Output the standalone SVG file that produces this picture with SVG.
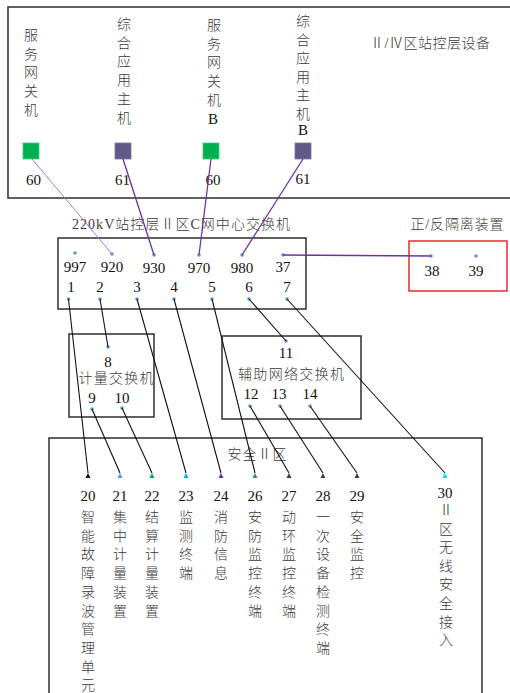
<svg xmlns="http://www.w3.org/2000/svg" width="510" height="693" viewBox="0 0 510 693">
<style>
.cn{font-family:"Liberation Serif","Noto Sans CJK SC",serif;font-size:14px;font-weight:300;fill:#3a3a3a;text-anchor:middle}
.num{font-family:"Liberation Serif","Noto Sans CJK SC",serif;font-size:15px;fill:#111;text-anchor:middle}
.box{fill:none;stroke:#3a3a3a;stroke-width:1.6}
.dot{fill:#5b9bd5}
.pl{stroke:#7030a0;stroke-width:1.3;fill:none}
.bl{stroke:#111;stroke-width:1.1;fill:none}
</style>
<rect width="510" height="693" fill="#fff"/>

<g id="zone-top">
<rect class="box" x="8" y="7" width="520" height="191"/>
<text class="cn" x="430" y="48" textLength="120" lengthAdjust="spacing">Ⅱ/Ⅳ区站控层设备</text>
</g>

<g id="n-gw-a">
<text class="cn"><tspan x="31" y="40">服</tspan><tspan x="31" y="58.7">务</tspan><tspan x="31" y="77.4">网</tspan><tspan x="31" y="96.1">关</tspan><tspan x="31" y="114.8">机</tspan></text>
<rect x="23" y="143" width="16" height="16" fill="#00b050" stroke="#3ccf7a" stroke-width="0.8"/>
<text class="num" x="33.5" y="185">60</text>
</g>
<g id="n-app-a">
<text class="cn"><tspan x="124" y="29">综</tspan><tspan x="124" y="47.7">合</tspan><tspan x="124" y="66.4">应</tspan><tspan x="124" y="85.1">用</tspan><tspan x="124" y="103.8">主</tspan><tspan x="124" y="122.5">机</tspan></text>
<rect x="115" y="143" width="16" height="16" fill="#605a8a" stroke="#7a75a0" stroke-width="0.8"/>
<text class="num" x="122.5" y="185">61</text>
</g>
<g id="n-gw-b">
<text class="cn"><tspan x="214" y="30">服</tspan><tspan x="214" y="48.7">务</tspan><tspan x="214" y="67.4">网</tspan><tspan x="214" y="86.1">关</tspan><tspan x="214" y="104.8">机</tspan></text>
<text class="num" x="213" y="123.5">B</text>
<rect x="203" y="143" width="16" height="16" fill="#00b050" stroke="#3ccf7a" stroke-width="0.8"/>
<text class="num" x="213" y="185">60</text>
</g>
<g id="n-app-b">
<text class="cn"><tspan x="303" y="26">综</tspan><tspan x="303" y="44.5">合</tspan><tspan x="303" y="63">应</tspan><tspan x="303" y="81.5">用</tspan><tspan x="303" y="100">主</tspan><tspan x="303" y="118.5">机</tspan></text>
<text class="num" x="303" y="135">B</text>
<rect x="295" y="143" width="16" height="16" fill="#605a8a" stroke="#7a75a0" stroke-width="0.8"/>
<text class="num" x="303" y="184">61</text>
</g>

<g id="n-center-switch">
<text class="cn" x="181" y="229" textLength="218" lengthAdjust="spacing">220kV站控层Ⅱ区C网中心交换机</text>
<rect class="box" x="58" y="238" width="248" height="71"/>
<circle class="dot" cx="75" cy="253" r="1.8"/><circle class="dot" cx="112" cy="254" r="1.8"/><circle class="dot" cx="154" cy="255" r="1.8"/><circle class="dot" cx="199" cy="255" r="1.8"/><circle class="dot" cx="242" cy="255" r="1.8"/><circle class="dot" cx="283" cy="255" r="1.8"/>
<text class="num" x="75" y="272">997</text><text class="num" x="112" y="272">920</text><text class="num" x="154" y="273">930</text><text class="num" x="199" y="273">970</text><text class="num" x="242" y="273">980</text><text class="num" x="283" y="272">37</text>
<text class="num" x="71" y="292">1</text><text class="num" x="100" y="292">2</text><text class="num" x="137" y="292">3</text><text class="num" x="174" y="292">4</text><text class="num" x="212" y="292">5</text><text class="num" x="249" y="292">6</text><text class="num" x="287" y="292">7</text>
<circle class="dot" cx="68.5" cy="299" r="1.8"/><circle class="dot" cx="100" cy="299" r="1.8"/><circle class="dot" cx="137" cy="299" r="1.8"/><circle class="dot" cx="174" cy="299" r="1.8"/><circle class="dot" cx="212" cy="299" r="1.8"/><circle class="dot" cx="249" cy="299" r="1.8"/><circle class="dot" cx="287" cy="299" r="1.8"/>
</g>

<g id="n-isolator">
<text class="cn" x="457" y="229" textLength="93" lengthAdjust="spacing">正/反隔离装置</text>
<rect x="409" y="241" width="98" height="50" fill="none" stroke="#e02020" stroke-width="1.4"/>
<circle class="dot" cx="431" cy="256" r="1.8"/><circle class="dot" cx="476" cy="256" r="1.8"/>
<text class="num" x="432" y="276">38</text><text class="num" x="476" y="276">39</text>
</g>

<g id="n-meter-switch">
<rect class="box" x="69" y="334" width="85" height="83"/>
<circle class="dot" cx="108" cy="347" r="1.8"/>
<text class="num" x="108" y="367">8</text>
<text class="cn" x="116" y="383" textLength="75" lengthAdjust="spacing">计量交换机</text>
<text class="num" x="92" y="403">9</text><text class="num" x="122" y="403">10</text>
<circle class="dot" cx="92" cy="409" r="1.8"/><circle class="dot" cx="122" cy="408" r="1.8"/>
</g>

<g id="n-aux-switch">
<rect class="box" x="222" y="336" width="139" height="83"/>
<circle class="dot" cx="286" cy="341" r="1.8"/>
<text class="num" x="286" y="358">11</text>
<text class="cn" x="291" y="379" textLength="106" lengthAdjust="spacing">辅助网络交换机</text>
<text class="num" x="251" y="399">12</text><text class="num" x="279" y="399">13</text><text class="num" x="310" y="399">14</text>
<circle class="dot" cx="250" cy="406" r="1.8"/><circle class="dot" cx="280" cy="406" r="1.8"/><circle class="dot" cx="310" cy="406" r="1.8"/>
</g>

<g id="zone-safety-2">
<rect class="box" x="49" y="438" width="433" height="270"/>
<text class="cn" x="257" y="459" textLength="59" lengthAdjust="spacing">安全Ⅱ区</text>
</g>

<g id="n20"><polygon points="88,473 85.5,478 90.5,478" fill="#111"/><text class="num" x="88" y="501">20</text>
<text class="cn"><tspan x="88" y="522">智</tspan><tspan x="88" y="540.7">能</tspan><tspan x="88" y="559.4">故</tspan><tspan x="88" y="578.1">障</tspan><tspan x="88" y="596.8">录</tspan><tspan x="88" y="615.5">波</tspan><tspan x="88" y="634.2">管</tspan><tspan x="88" y="652.9">理</tspan><tspan x="88" y="671.6">单</tspan><tspan x="88" y="690.3">元</tspan></text></g>
<g id="n21"><polygon points="120,473 117.5,478 122.5,478" fill="#5b9bd5"/><text class="num" x="120" y="501">21</text>
<text class="cn"><tspan x="120" y="522">集</tspan><tspan x="120" y="540.7">中</tspan><tspan x="120" y="559.4">计</tspan><tspan x="120" y="578.1">量</tspan><tspan x="120" y="596.8">装</tspan><tspan x="120" y="615.5">置</tspan></text></g>
<g id="n22"><polygon points="152,473 149.5,478 154.5,478" fill="#00b050"/><text class="num" x="152" y="501">22</text>
<text class="cn"><tspan x="152" y="522">结</tspan><tspan x="152" y="540.7">算</tspan><tspan x="152" y="559.4">计</tspan><tspan x="152" y="578.1">量</tspan><tspan x="152" y="596.8">装</tspan><tspan x="152" y="615.5">置</tspan></text></g>
<g id="n23"><polygon points="186,473 183.5,478 188.5,478" fill="#00b0f0"/><text class="num" x="186" y="501">23</text>
<text class="cn"><tspan x="186" y="522">监</tspan><tspan x="186" y="540.7">测</tspan><tspan x="186" y="559.4">终</tspan><tspan x="186" y="578.1">端</tspan></text></g>
<g id="n24"><polygon points="221,473 218.5,478 223.5,478" fill="#7030a0"/><text class="num" x="221" y="501">24</text>
<text class="cn"><tspan x="221" y="522">消</tspan><tspan x="221" y="540.7">防</tspan><tspan x="221" y="559.4">信</tspan><tspan x="221" y="578.1">息</tspan></text></g>
<g id="n26"><polygon points="255,473 252.5,478 257.5,478" fill="#31859c"/><text class="num" x="255" y="501">26</text>
<text class="cn"><tspan x="255" y="522">安</tspan><tspan x="255" y="540.7">防</tspan><tspan x="255" y="559.4">监</tspan><tspan x="255" y="578.1">控</tspan><tspan x="255" y="596.8">终</tspan><tspan x="255" y="615.5">端</tspan></text></g>
<g id="n27"><polygon points="289,473 286.5,478 291.5,478" fill="#403c34"/><text class="num" x="289" y="501">27</text>
<text class="cn"><tspan x="289" y="522">动</tspan><tspan x="289" y="540.7">环</tspan><tspan x="289" y="559.4">监</tspan><tspan x="289" y="578.1">控</tspan><tspan x="289" y="596.8">终</tspan><tspan x="289" y="615.5">端</tspan></text></g>
<g id="n28"><polygon points="323,473 320.5,478 325.5,478" fill="#403c34"/><text class="num" x="323" y="501">28</text>
<text class="cn"><tspan x="323" y="522">一</tspan><tspan x="323" y="540.7">次</tspan><tspan x="323" y="559.4">设</tspan><tspan x="323" y="578.1">备</tspan><tspan x="323" y="596.8">检</tspan><tspan x="323" y="615.5">测</tspan><tspan x="323" y="634.2">终</tspan><tspan x="323" y="652.9">端</tspan></text></g>
<g id="n29"><polygon points="357,473 354.5,478 359.5,478" fill="#403c34"/><text class="num" x="357" y="501">29</text>
<text class="cn"><tspan x="357" y="522">安</tspan><tspan x="357" y="540.7">全</tspan><tspan x="357" y="559.4">监</tspan><tspan x="357" y="578.1">控</tspan></text></g>
<g id="n30"><polygon points="445,473 442.5,478 447.5,478" fill="#00e0f0"/><text class="num" x="445" y="498">30</text>
<text class="cn"><tspan x="446" y="515">Ⅱ</tspan><tspan x="446" y="533.6">区</tspan><tspan x="446" y="552.2">无</tspan><tspan x="446" y="570.8">线</tspan><tspan x="446" y="589.4">安</tspan><tspan x="446" y="608">全</tspan><tspan x="446" y="626.6">接</tspan><tspan x="446" y="645.2">入</tspan></text></g>

<g id="connectors">
<line x1="32" y1="159" x2="112" y2="254" stroke="#9a6cc8" stroke-width="0.9"/>
<line class="pl" x1="123" y1="159" x2="154" y2="255"/>
<line class="pl" x1="211" y1="159" x2="199" y2="255"/>
<line class="pl" x1="303" y1="159" x2="242" y2="255"/>
<line class="pl" x1="283" y1="255" x2="431" y2="256"/>
<line class="bl" x1="100" y1="299" x2="108" y2="347"/>
<line class="bl" x1="249" y1="299" x2="286" y2="341"/>
<line class="bl" x1="68.5" y1="299" x2="88" y2="473"/>
<line class="bl" x1="92" y1="409" x2="120" y2="473"/>
<line class="bl" x1="122" y1="408" x2="152" y2="473"/>
<line class="bl" x1="137" y1="299" x2="186" y2="473"/>
<line class="bl" x1="174" y1="299" x2="221" y2="473"/>
<line class="bl" x1="212" y1="299" x2="255" y2="473"/>
<line class="bl" x1="250" y1="406" x2="289" y2="473"/>
<line class="bl" x1="280" y1="406" x2="323" y2="473"/>
<line class="bl" x1="310" y1="406" x2="357" y2="473"/>
<line class="bl" x1="287" y1="299" x2="445" y2="473"/>
</g>
</svg>
